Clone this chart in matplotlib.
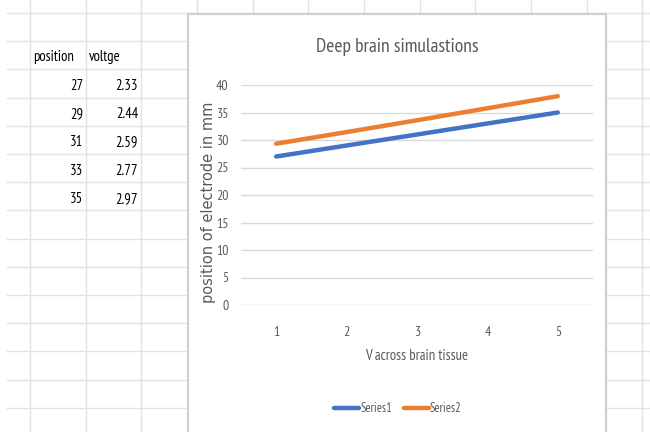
import matplotlib
matplotlib.use("Agg")
import matplotlib.pyplot as plt
from matplotlib.lines import Line2D
from matplotlib.patches import Rectangle
import numpy as np

# ---- data ----
position = [27, 29, 31, 33, 35]
voltage = [2.33, 2.44, 2.59, 2.77, 2.97]
voltage_labels = ["2.33", "2.44", "2.59", "2.77", "2.97"]
categories = [1, 2, 3, 4, 5]
series1 = np.array(position, dtype=float)
series2 = series1 + np.array(voltage)  # stacked line chart
yticks = [0, 5, 10, 15, 20, 25, 30, 35, 40]

W, H = 650, 432
fig = plt.figure(figsize=(W / 100, H / 100), dpi=100)
fig.patch.set_facecolor("white")

NARROW = ["PT Sans Narrow", "DejaVu Sans"]
TXT = "#595959"
GRID_SS = "#E2E2E2"


def fx(x):
    return x / W


def fy(y):
    return 1 - y / H


# spreadsheet grid
col_x = [30 + 55.65 * k for k in range(12)]
row_y = [13 + 28.2 * k for k in range(16)]
for y in row_y:
    fig.add_artist(Line2D([fx(7), fx(W)], [fy(y), fy(y)], color=GRID_SS, lw=1.0, zorder=0))
for x in col_x:
    fig.add_artist(Line2D([fx(x), fx(x)], [0, 1], color=GRID_SS, lw=1.0, zorder=0))

# table text
TS = 10.5
fig.text(fx(33), fy(57), "position", fontsize=TS, family=NARROW, color="black", va="center", ha="left")
fig.text(fx(89), fy(57), "voltge", fontsize=TS, family=NARROW, color="black", va="center", ha="left")
for i, (p, v) in enumerate(zip(position, voltage_labels)):
    yy = 86 + 28.2 * i
    fig.text(fx(83), fy(yy), str(p), fontsize=TS, family=NARROW, color="black", va="center", ha="right")
    fig.text(fx(138), fy(yy), v, fontsize=TS, family=NARROW, color="black", va="center", ha="right")

# chart box
fig.add_artist(Rectangle((fx(188), fy(440)), fx(606) - fx(188), fy(14) - fy(440),
                         facecolor="white", edgecolor="#D0D0D0", lw=1.6, zorder=1))

ax = fig.add_axes([fx(241), fy(305), fx(593) - fx(241), fy(85) - fy(305)])
ax.set_zorder(2)
ax.patch.set_alpha(0)
ax.plot(categories, series1, color="#4472C4", lw=3.2, solid_capstyle="round", label="Series1")
ax.plot(categories, series2, color="#ED7D31", lw=3.2, solid_capstyle="round", label="Series2")
ax.set_xlim(0.5, 5.5)
ax.set_ylim(0, 40)
ax.set_yticks(yticks)
ax.set_xticks(categories)
ax.grid(axis="y", color="#D9D9D9", lw=1.0)
ax.set_axisbelow(True)
for s in ax.spines.values():
    s.set_visible(False)
ax.tick_params(length=0, labelsize=10, labelcolor=TXT)
ax.tick_params(axis="y", pad=9)
ax.tick_params(axis="x", pad=15)
for lab in ax.get_xticklabels() + ax.get_yticklabels():
    lab.set_family(NARROW)

fig.text(fx(397), fy(47), "Deep brain simulastions", fontsize=14, family=NARROW, color=TXT,
         ha="center", va="center", zorder=3)
fig.text(fx(417), fy(356), "V across brain tissue", fontsize=10.5, family=NARROW, color=TXT,
         ha="center", va="center", zorder=3)
fig.text(fx(208), fy(202), "position of electrode in mm", fontsize=10.5, family="DejaVu Sans",
         color=TXT, rotation=90, ha="center", va="center", zorder=3)

leg = fig.legend(loc="center", bbox_to_anchor=(fx(398), fy(409)), ncol=2, frameon=False,
                 prop={"family": NARROW, "size": 9}, handlelength=2.0, handletextpad=0.1,
                 columnspacing=0.9, labelcolor=TXT)
leg.set_zorder(3)

fig.savefig("out.png", dpi=100, facecolor="white")
